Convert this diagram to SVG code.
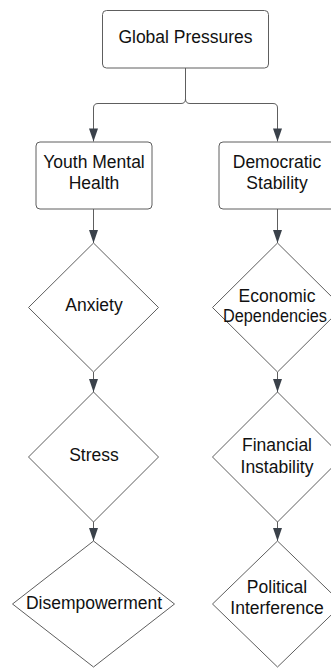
<svg xmlns="http://www.w3.org/2000/svg" width="331" height="668" viewBox="0 0 331 668">
  <style>
    .box { fill: #ffffff; stroke: #5e5e5e; stroke-width: 1; }
    .dia { fill: #ffffff; stroke: #5e5e5e; stroke-width: 1; stroke-linejoin: round; }
    .lbl { font-family: "Liberation Sans", Arial, sans-serif; font-size: 17.5px; fill: #111111; text-anchor: middle; }
    .wire { fill: none; stroke: #5e5e5e; stroke-width: 1; }
  </style>
  <defs>
    <!-- filled arrowhead, tip sits on the end of the path -->
    <marker id="tip" markerUnits="userSpaceOnUse" markerWidth="14" markerHeight="10" refX="13" refY="0" orient="auto" overflow="visible">
      <path d="M0 -4.5 L13 0 L0 4.5 Z" fill="#3a414a"/>
    </marker>
  </defs>
  <rect width="331" height="668" fill="#ffffff"/>

  <g id="connectors">
    <path class="wire" d="M185.5 68 V99 Q185.5 103.5 181 103.5 H98 Q93.5 103.5 93.5 108 V141.5" marker-end="url(#tip)"/>
    <path class="wire" d="M185.5 99 Q185.5 103.5 190 103.5 H273 Q277.5 103.5 277.5 108 V141.5" marker-end="url(#tip)"/>
    <path class="wire" d="M93.5 209 V243" marker-end="url(#tip)"/>
    <path class="wire" d="M93.5 372 V392" marker-end="url(#tip)"/>
    <path class="wire" d="M93.5 522 V541" marker-end="url(#tip)"/>
    <path class="wire" d="M277.5 209 V243" marker-end="url(#tip)"/>
    <path class="wire" d="M277.5 372 V392" marker-end="url(#tip)"/>
    <path class="wire" d="M277.5 522 V541" marker-end="url(#tip)"/>
  </g>

  <g id="global-pressures">
    <rect class="box" x="102.5" y="10.5" width="166" height="57.5" rx="4"/>
    <text class="lbl" x="185.5" y="43">Global Pressures</text>
  </g>

  <g id="youth-mental-health">
    <rect class="box" x="36" y="142" width="116" height="67" rx="4"/>
    <text class="lbl" x="94" y="168">Youth Mental</text>
    <text class="lbl" x="94" y="189">Health</text>
  </g>

  <g id="democratic-stability">
    <rect class="box" x="219" y="142" width="116" height="67" rx="4"/>
    <text class="lbl" x="277" y="168">Democratic</text>
    <text class="lbl" x="277" y="189">Stability</text>
  </g>

  <g id="anxiety">
    <polygon class="dia" points="93.5,243 158.5,307.5 93.5,372 28.5,307.5"/>
    <text class="lbl" x="94" y="311">Anxiety</text>
  </g>

  <g id="stress">
    <polygon class="dia" points="93.5,392 158.5,457 93.5,522 28.5,457"/>
    <text class="lbl" x="94" y="461">Stress</text>
  </g>

  <g id="disempowerment">
    <polygon class="dia" points="93.5,541 174.5,604 93.5,667 12.5,604"/>
    <text class="lbl" x="94" y="609">Disempowerment</text>
  </g>

  <g id="economic-dependencies">
    <polygon class="dia" points="277.5,243 342.5,307.5 277.5,372 212.5,307.5"/>
    <text class="lbl" x="277" y="302">Economic</text>
    <text class="lbl" x="275" y="322" textLength="104" lengthAdjust="spacingAndGlyphs">Dependencies</text>
  </g>

  <g id="financial-instability">
    <polygon class="dia" points="277.5,392 342.5,457 277.5,522 212.5,457"/>
    <text class="lbl" x="277" y="451">Financial</text>
    <text class="lbl" x="277" y="473">Instability</text>
  </g>

  <g id="political-interference">
    <polygon class="dia" points="277.5,541 342.5,604 277.5,667 212.5,604"/>
    <text class="lbl" x="277" y="593">Political</text>
    <text class="lbl" x="277" y="614">Interference</text>
  </g>
</svg>
